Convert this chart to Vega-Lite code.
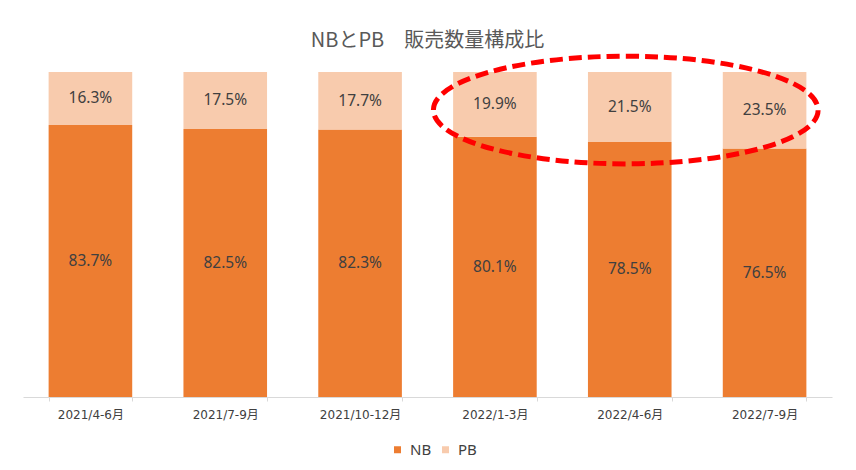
{
  "$schema": "https://vega.github.io/schema/vega-lite/v6.json",
  "width": 809,
  "height": 325,
  "autosize": {"type": "none"},
  "padding": {"left": 23, "top": 72, "right": 24, "bottom": 73},
  "background": "#ffffff",
  "title": {
    "text": "NBとPB　販売数量構成比",
    "font": "Noto Sans CJK JP",
    "fontSize": 20,
    "fontWeight": "normal",
    "color": "#595959",
    "anchor": "middle",
    "offset": 20,
    "dy": 25
  },
  "datasets": {
    "shares": [
      {"period": "2021/4-6月", "type": "NB", "share": 0.837},
      {"period": "2021/4-6月", "type": "PB", "share": 0.163},
      {"period": "2021/7-9月", "type": "NB", "share": 0.825},
      {"period": "2021/7-9月", "type": "PB", "share": 0.175},
      {"period": "2021/10-12月", "type": "NB", "share": 0.823},
      {"period": "2021/10-12月", "type": "PB", "share": 0.177},
      {"period": "2022/1-3月", "type": "NB", "share": 0.801},
      {"period": "2022/1-3月", "type": "PB", "share": 0.199},
      {"period": "2022/4-6月", "type": "NB", "share": 0.785},
      {"period": "2022/4-6月", "type": "PB", "share": 0.215},
      {"period": "2022/7-9月", "type": "NB", "share": 0.765},
      {"period": "2022/7-9月", "type": "PB", "share": 0.235}
    ],
    "highlight": [
      {"period": "2022/4-6月", "level": 0.883}
    ]
  },
  "encoding": {
    "x": {
      "field": "period",
      "type": "nominal",
      "sort": ["2021/4-6月", "2021/7-9月", "2021/10-12月", "2022/1-3月", "2022/4-6月", "2022/7-9月"],
      "scale": {"paddingInner": 0.38, "paddingOuter": 0.19},
      "axis": {
        "title": null,
        "labelAngle": 0,
        "labelFont": "DejaVu Sans, Noto Sans CJK JP",
        "labelFontSize": 12,
        "labelColor": "#404040",
        "labelPadding": 8,
        "domainColor": "#D9D9D9",
        "tickColor": "#D9D9D9",
        "tickSize": 4,
        "tickBand": "extent",
        "grid": false
      }
    }
  },
  "layer": [
    {
      "data": {"name": "shares"},
      "mark": {"type": "bar"},
      "encoding": {
        "y": {
          "field": "share",
          "type": "quantitative",
          "stack": "zero",
          "scale": {"domain": [0, 1], "nice": false},
          "axis": null
        },
        "order": {"field": "type", "type": "nominal", "sort": "ascending"},
        "color": {
          "field": "type",
          "type": "nominal",
          "scale": {"domain": ["NB", "PB"], "range": ["#ED7D31", "#F8CBAD"]},
          "legend": {
            "title": null,
            "orient": "none",
            "legendX": 367,
            "legendY": 370,
            "direction": "horizontal",
            "symbolType": "square",
            "symbolSize": 49,
            "labelFont": "Noto Sans",
            "labelFontSize": 15,
            "labelColor": "#404040",
            "labelOffset": 5,
            "columnPadding": 6
          }
        }
      }
    },
    {
      "data": {"name": "shares"},
      "transform": [
        {"stack": "share", "groupby": ["period"], "sort": [{"field": "type", "order": "ascending"}], "as": ["s0", "s1"]},
        {"calculate": "(datum.s0 + datum.s1) / 2", "as": "mid"}
      ],
      "mark": {"type": "text", "font": "Noto Sans", "fontSize": 15.5, "color": "#404040"},
      "encoding": {
        "y": {"field": "mid", "type": "quantitative"},
        "text": {"field": "share", "type": "quantitative", "format": ".1%"}
      }
    },
    {
      "data": {"name": "highlight"},
      "mark": {
        "type": "point",
        "shape": "M-1,0A1,0.28 0 1,1 1,0A1,0.28 0 1,1 -1,0Z",
        "size": 148000,
        "xOffset": -4,
        "filled": false,
        "stroke": "#FF0000",
        "strokeWidth": 5,
        "strokeDash": [13, 6],
        "opacity": 1
      },
      "encoding": {
        "y": {"field": "level", "type": "quantitative"}
      }
    }
  ],
  "config": {
    "view": {"stroke": null}
  }
}
